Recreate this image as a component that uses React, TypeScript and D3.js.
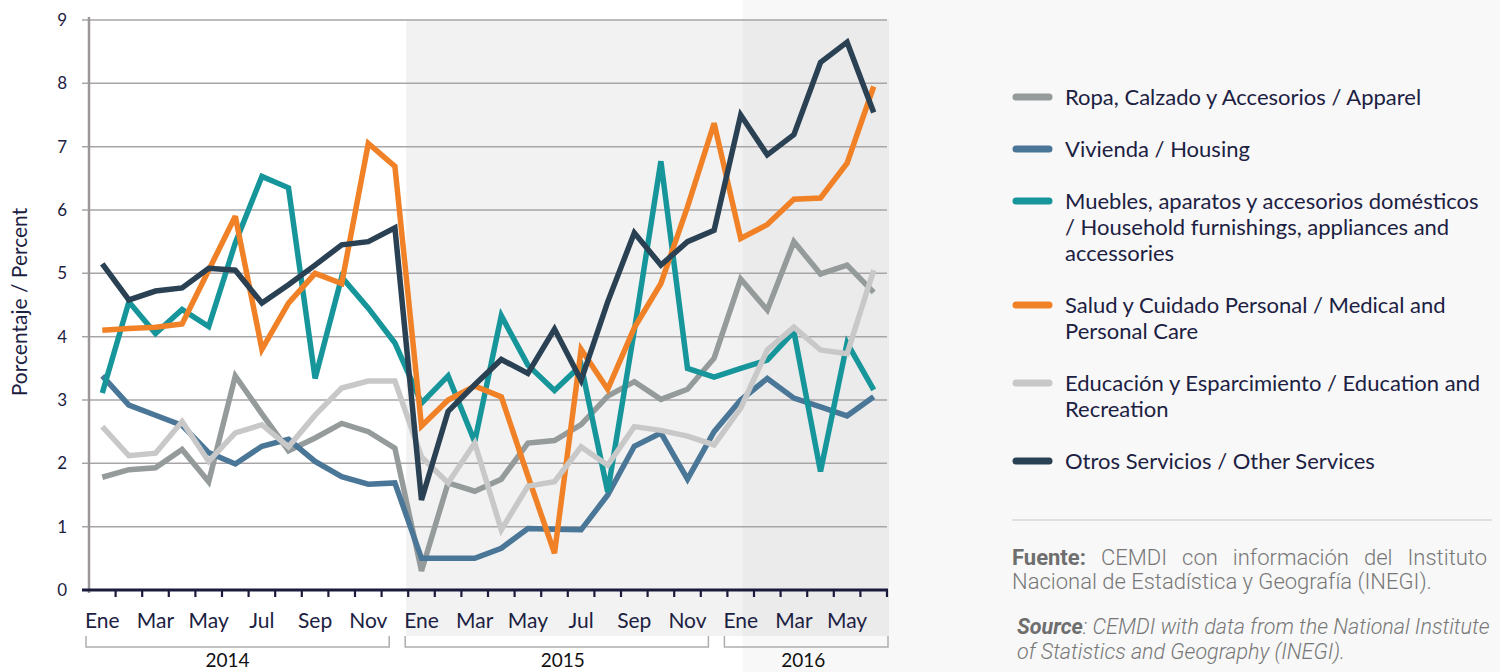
import React from 'react';
import * as d3 from 'd3';

const months = ['Ene', 'Feb', 'Mar', 'Abr', 'May', 'Jun', 'Jul', 'Ago', 'Sep', 'Oct', 'Nov', 'Dic'];
const periods: string[] = [];
[2014, 2015, 2016].forEach(y => months.forEach(m => periods.push(`${m} ${y}`)));
const dates = periods.slice(0, 30);

const ropa = [1.78, 1.9, 1.93, 2.22, 1.71, 3.38, 2.78, 2.2, 2.4, 2.63, 2.5, 2.24, 0.3, 1.69, 1.56, 1.75, 2.32, 2.36, 2.61, 3.06, 3.29, 3.01, 3.17, 3.66, 4.91, 4.42, 5.5, 4.99, 5.13, 4.7];
const vivienda = [3.38, 2.92, 2.76, 2.6, 2.17, 1.99, 2.27, 2.38, 2.03, 1.79, 1.67, 1.69, 0.5, 0.5, 0.5, 0.66, 0.97, 0.96, 0.95, 1.5, 2.27, 2.48, 1.75, 2.5, 3.0, 3.34, 3.03, 2.89, 2.75, 3.05];
const muebles = [3.11, 4.55, 4.05, 4.43, 4.16, 5.48, 6.53, 6.35, 3.34, 4.94, 4.45, 3.9, 2.95, 3.38, 2.34, 4.33, 3.55, 3.15, 3.55, 1.55, 4.1, 6.77, 3.5, 3.36, 3.5, 3.63, 4.08, 1.87, 3.9, 3.16];
const salud = [4.1, 4.13, 4.15, 4.2, 5.05, 5.9, 3.8, 4.53, 5.0, 4.84, 7.05, 6.69, 2.59, 3.0, 3.22, 3.05, 1.8, 0.58, 3.8, 3.17, 4.14, 4.84, 6.05, 7.37, 5.55, 5.77, 6.17, 6.19, 6.74, 7.95];
const educacion = [2.58, 2.12, 2.16, 2.66, 2.03, 2.48, 2.61, 2.26, 2.76, 3.19, 3.3, 3.3, 2.1, 1.69, 2.32, 0.95, 1.64, 1.71, 2.26, 1.97, 2.58, 2.52, 2.43, 2.29, 2.87, 3.79, 4.15, 3.79, 3.73, 5.05];
const otros = [5.15, 4.58, 4.72, 4.77, 5.08, 5.05, 4.53, 4.82, 5.13, 5.45, 5.5, 5.72, 1.42, 2.82, 3.24, 3.64, 3.42, 4.12, 3.31, 4.55, 5.64, 5.13, 5.5, 5.68, 7.5, 6.87, 7.19, 8.33, 8.65, 7.54];

const seriesNames = [
  ['Ropa, Calzado y Accesorios / Apparel'],
  ['Vivienda / Housing'],
  ['Muebles, aparatos y accesorios domésticos', '/ Household furnishings, appliances and', 'accessories'],
  ['Salud y Cuidado Personal / Medical and', 'Personal Care'],
  ['Educación y Esparcimiento / Education and', 'Recreation'],
  ['Otros Servicios / Other Services'],
];
const seriesValues = [ropa, vivienda, muebles, salud, educacion, otros];
const seriesColors = ['#959b9b', '#4a7797', '#16969a', '#f08127', '#c8c8c8', '#2a4153'];

const yTicks = [0, 1, 2, 3, 4, 5, 6, 7, 8, 9];
const years = ['2014', '2015', '2016'];

const W = 1500, H = 672;
const plotLeft = 89, plotRight = 887, plotTop = 20, plotBottom = 590;
const textColor = '#1c2142';
const font = 'Lato, "Noto Sans", sans-serif';

// justify one line of words between x0 and x1 (measured with canvas)
function justify(words: { t: string; bold?: boolean }[], x0: number, x1: number, size: number) {
  const ctx = document.createElement('canvas').getContext('2d');
  const widths = words.map(w => {
    if (!ctx) return w.t.length * size * 0.5;
    ctx.font = `${w.bold ? 700 : 300} ${size}px Roboto`;
    return ctx.measureText(w.t).width;
  });
  const total = d3.sum(widths);
  const gap = (x1 - x0 - total) / (words.length - 1);
  let pos = x0;
  return words.map((w, i) => {
    const p = pos;
    pos += widths[i] + gap;
    return { ...w, x: p };
  });
}

export default function App() {
  const x = d3.scaleBand<string>().domain(dates).range([plotLeft, plotRight]).padding(0);
  const bw = x.bandwidth();
  const cx = (d: string) => (x(d) as number) + bw / 2;
  const y = d3.scaleLinear().domain([0, 9]).range([plotBottom, plotTop]);

  const line = d3.line<number>()
    .x((_, i) => cx(dates[i]))
    .y(v => y(v));

  const yearRanges = years.map(yr => {
    const ds = dates.filter(d => d.endsWith(yr));
    return { yr, first: ds[0], last: ds[ds.length - 1] };
  });
  const yearLabelShift = [-10, 6, -3];

  const shade2015Start = x('Ene 2015') as number - 2;
  const panelStart = cx('Ene 2016') + 2;

  // legend rows
  const legendRows: { top: number; names: string[]; color: string }[] = [];
  let ly = 97;
  seriesNames.forEach((names, i) => {
    legendRows.push({ top: ly, names, color: seriesColors[i] });
    ly += 26 * names.length + 26;
  });

  const fuenteWords = justify(
    [{ t: 'Fuente:', bold: true }, { t: 'CEMDI' }, { t: 'con' }, { t: 'información' }, { t: 'del' }, { t: 'Instituto' }],
    1012, 1487, 22
  );

  return (
    <div style={{ position: 'absolute', left: 0, top: 0 }}>
      <svg width={W} height={H} style={{ display: 'block', fontFamily: font }}>
        <rect x={0} y={0} width={W} height={H} fill="#ffffff" />
        <rect x={panelStart} y={0} width={W - panelStart} height={H} fill="#f8f8f8" />
        <rect x={shade2015Start} y={plotTop} width={plotRight + 2 - shade2015Start} height={636 - plotTop} fill="#000" fillOpacity={0.05} />

        {/* gridlines */}
        {yTicks.map(t => (
          <line key={t} x1={plotLeft - 7} x2={plotRight} y1={y(t)} y2={y(t)} stroke="#a9a5a7" strokeWidth={1.5} />
        ))}
        {yTicks.map(t => (
          <text key={'yl' + t} x={67} y={y(t)} dy="0.35em" textAnchor="end" fontSize={17} fill={textColor}>{t}</text>
        ))}
        <line x1={plotLeft} x2={plotLeft} y1={plotTop - 3} y2={plotBottom + 3} stroke="#9c9899" strokeWidth={2.5} />

        {/* lines */}
        {seriesValues.map((vals, i) => (
          <path key={i} d={line(vals) || ''} fill="none" stroke={seriesColors[i]} strokeWidth={5.5} strokeLinejoin="miter" strokeMiterlimit={3} />
        ))}

        {/* x axis */}
        <line x1={plotLeft - 7} x2={plotRight + 1} y1={plotBottom} y2={plotBottom} stroke="#1a1a3c" strokeWidth={3} />
        {dates.map((d, i) => i > 0 ? (
          <line key={'t' + d} x1={x(d) as number} x2={x(d) as number} y1={plotBottom} y2={plotBottom + 7} stroke="#1a1a3c" strokeWidth={2.2} />
        ) : null)}
        <line x1={plotRight} x2={plotRight} y1={plotBottom} y2={plotBottom + 7} stroke="#1a1a3c" strokeWidth={2.2} />
        {dates.map((d, i) => i % 2 === 0 ? (
          <text key={'m' + d} x={cx(d)} y={628} textAnchor="middle" fontSize={21} fill={textColor}>{d.split(' ')[0]}</text>
        ) : null)}

        {/* year brackets */}
        {yearRanges.map((r, i) => {
          const x0 = (x(r.first) as number) - 3;
          const x1 = i === yearRanges.length - 1 ? plotRight + 1 : (x(r.last) as number) + bw - 19;
          return (
            <g key={r.yr}>
              <path d={`M${x0},636 V647 H${x1} V636`} fill="none" stroke="#b0adae" strokeWidth={1.5} />
              <text x={(x0 + x1) / 2 + yearLabelShift[i]} y={667} textAnchor="middle" fontSize={19} fill="#111">{r.yr}</text>
            </g>
          );
        })}

        <text transform="translate(27,302) rotate(-90)" textAnchor="middle" fontSize={21} fill={textColor}>Porcentaje / Percent</text>

        {/* legend */}
        {legendRows.map((r, i) => (
          <g key={'lg' + i}>
            <line x1={1016} x2={1049} y1={r.top} y2={r.top} stroke={r.color} strokeWidth={7} strokeLinecap="round" />
            {r.names.map((n, j) => (
              <text key={j} x={1065} y={r.top + 8 + j * 26} fontSize={22} fill={textColor}>{n}</text>
            ))}
          </g>
        ))}

        <line x1={1012} x2={1492} y1={520} y2={520} stroke="#d9d9d9" strokeWidth={1.5} />

        <g fontFamily="Roboto, sans-serif" fontSize={22} fill="#777" fontWeight={300}>
          {fuenteWords.map(w => (
            <text key={w.t} x={w.x} y={565} fontWeight={w.bold ? 700 : 300} fill={w.bold ? '#6e6e6e' : '#777'}>{w.t}</text>
          ))}
          <text x={1012} y={589}>Nacional de Estadística y Geografía (INEGI).</text>
          <text x={1017} y={634} fontStyle="italic" fontSize={21.5}><tspan fontWeight={700} fill="#6e6e6e">Source</tspan>: CEMDI with data from the National Institute</text>
          <text x={1017} y={659} fontStyle="italic" fontSize={21.5}>of Statistics and Geography (INEGI).</text>
        </g>
      </svg>
    </div>
  );
}
